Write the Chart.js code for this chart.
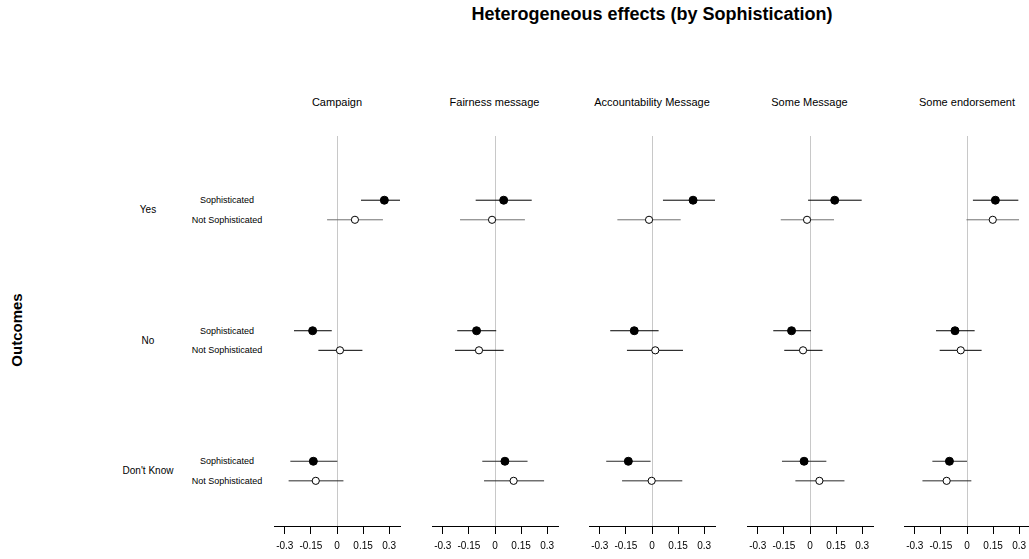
<!DOCTYPE html>
<html>
<head>
<meta charset="utf-8">
<title>Heterogeneous effects (by Sophistication)</title>
<script src="https://cdn.jsdelivr.net/npm/chart.js@4/dist/chart.umd.min.js"></script>
<style>
  html, body { margin: 0; padding: 0; background: #fff; }
  body { width: 1029px; height: 559px; position: relative; overflow: hidden;
         font-family: "Liberation Sans", Arial, sans-serif; color: #000; }
  .txt { position: absolute; white-space: nowrap; transform: translate(-50%, -50%); line-height: 1; }
  .title { font-weight: bold; font-size: 18px; }
  .head { font-size: 11px; }
  .row { font-size: 10px; }
  .grp { font-size: 9px; }
  .ylab { font-weight: bold; font-size: 15px; transform: translate(-50%, -50%) rotate(-90deg); }
  canvas { position: absolute; }
</style>
</head>
<body>
<div id="root"></div>
<script>
// Outcomes (rows), treatments (panels) and subgroups
const outcomes = ["Yes", "No", "Don't Know"];
const treatments = ["Campaign", "Fairness message", "Accountability Message", "Some Message", "Some endorsement"];
const groups = ["Sophisticated", "Not Sophisticated"];

// Tick values and labels for the effect axis
const tickValues = [-0.3, -0.15, 0, 0.15, 0.3];
const tickLabels = ["-0.3", "-0.15", "0", "0.15", "0.3"];

// Point estimates and interval bounds, one row per treatment, columns = Yes, No, Don't Know
const sophEst = [
  [0.272, -0.140, -0.136],
  [0.050, -0.106, 0.057],
  [0.236, -0.102, -0.136],
  [0.142, -0.106, -0.034],
  [0.163, -0.069, -0.101]
];
const sophLo = [
  [0.138, -0.247, -0.268],
  [-0.111, -0.217, -0.073],
  [0.063, -0.240, -0.263],
  [-0.011, -0.211, -0.161],
  [0.034, -0.178, -0.199]
];
const sophHi = [
  [0.362, -0.030, 0.002],
  [0.211, 0.007, 0.187],
  [0.362, 0.038, -0.008],
  [0.297, 0.006, 0.094],
  [0.295, 0.044, 0.000]
];
const notEst = [
  [0.103, 0.017, -0.122],
  [-0.017, -0.092, 0.107],
  [-0.017, 0.019, -0.002],
  [-0.017, -0.040, 0.054],
  [0.148, -0.036, -0.117]
];
const notLo = [
  [-0.057, -0.107, -0.278],
  [-0.201, -0.230, -0.063],
  [-0.199, -0.144, -0.172],
  [-0.168, -0.148, -0.084],
  [-0.003, -0.157, -0.256]
];
const notHi = [
  [0.264, 0.146, 0.037],
  [0.172, 0.050, 0.282],
  [0.165, 0.178, 0.174],
  [0.138, 0.072, 0.198],
  [0.299, 0.084, 0.025]
];

// ---- layout ----
const FONT = '"Liberation Sans", Arial, sans-serif';
const root = document.getElementById('root');
const PANEL_STEP = 157.5;
const AREA_LEFT = 274, AREA_W = 126;
const PAD_L = 6, PAD_R = 6, PAD_T = 6, PAD_B = 1;
const CANVAS_TOP = 130, CANVAS_H = 429;
const X_MIN = -0.362, X_MAX = 0.362;
const Y_MIN = -0.567, Y_MAX = 2.421;
const SUB_OFFSET = 0.075;            // vertical split between the two subgroups
const ROW_TOP_PX = 210, ROW_STEP_PX = 130.5;

function addText(cls, text, x, y) {
  const d = document.createElement('div');
  d.className = 'txt ' + cls;
  d.textContent = text;
  d.style.left = x + 'px';
  d.style.top = y + 'px';
  root.appendChild(d);
}

addText('title', 'Heterogeneous effects (by Sophistication)', 652, 14);
addText('ylab', 'Outcomes', 16, 330);

outcomes.forEach((o, r) => {
  const yc = ROW_TOP_PX + r * ROW_STEP_PX;
  addText('row', o, 148, yc);
  addText('grp', groups[0], 227, yc - 10);
  addText('grp', groups[1], 227, yc + 9.5);
});

// line colours for the interval segments
function ciColor(group, r) {
  if (group === 1 && r === 0) return '#707070';
  if (r === 2) return '#2a2a2a';
  return '#000';
}

treatments.forEach((name, p) => {
  const zeroX = AREA_LEFT + AREA_W / 2 + p * PANEL_STEP;
  addText('head', name, zeroX, 102);

  const cv = document.createElement('canvas');
  const left = Math.round(AREA_LEFT - PAD_L + p * PANEL_STEP);
  cv.width = AREA_W + PAD_L + PAD_R;
  cv.height = CANVAS_H;
  cv.style.left = left + 'px';
  cv.style.top = CANVAS_TOP + 'px';
  cv.style.width = cv.width + 'px';
  cv.style.height = cv.height + 'px';
  root.appendChild(cv);

  const datasets = [];
  const est = [sophEst[p], notEst[p]];
  const lo = [sophLo[p], notLo[p]];
  const hi = [sophHi[p], notHi[p]];
  const off = [-SUB_OFFSET, SUB_OFFSET];

  // interval segments
  for (let g = 0; g < 2; g++) {
    outcomes.forEach((o, r) => {
      const y = r + off[g];
      datasets.push({
        type: 'line',
        data: [{ x: lo[g][r], y: y }, { x: hi[g][r], y: y }],
        borderColor: ciColor(g, r),
        borderWidth: 1,
        pointRadius: 0,
        fill: false,
        tension: 0,
        clip: false,
        order: 2
      });
    });
  }
  // point estimates: filled for Sophisticated, hollow for Not Sophisticated
  datasets.push({
    type: 'scatter',
    label: groups[0],
    data: outcomes.map((o, r) => ({ x: est[0][r], y: r + off[0] })),
    pointRadius: 4,
    pointBackgroundColor: '#000',
    pointBorderColor: '#000',
    pointBorderWidth: 1,
    clip: false,
    order: 1
  });
  datasets.push({
    type: 'scatter',
    label: groups[1],
    data: outcomes.map((o, r) => ({ x: est[1][r], y: r + off[1] })),
    pointRadius: 3.6,
    pointBackgroundColor: '#fff',
    pointBorderColor: '#000',
    pointBorderWidth: 1,
    clip: false,
    order: 1
  });

  new Chart(cv, {
    type: 'scatter',
    data: { datasets },
    options: {
      responsive: false,
      animation: false,
      devicePixelRatio: 1,
      layout: { padding: { left: PAD_L, right: PAD_R, top: PAD_T, bottom: PAD_B } },
      plugins: { legend: { display: false }, tooltip: { enabled: false } },
      scales: {
        x: {
          type: 'linear',
          min: X_MIN,
          max: X_MAX,
          afterBuildTicks: (axis) => { axis.ticks = tickValues.map(v => ({ value: v })); },
          ticks: {
            autoSkip: false,
            maxRotation: 0,
            padding: 6,
            color: '#000',
            font: { family: FONT, size: 10 },
            callback: (v, i) => tickLabels[i]
          },
          grid: {
            drawOnChartArea: true,
            drawTicks: true,
            tickLength: 8,
            color: (ctx) => (ctx.tick && ctx.tick.value === 0) ? '#c8c8c8' : 'rgba(0,0,0,0)',
            tickColor: '#000',
            lineWidth: 1
          },
          border: { display: true, color: '#000', width: 1 }
        },
        y: {
          type: 'linear',
          min: Y_MIN,
          max: Y_MAX,
          reverse: true,
          display: false
        }
      }
    }
  });
});
</script>
</body>
</html>
